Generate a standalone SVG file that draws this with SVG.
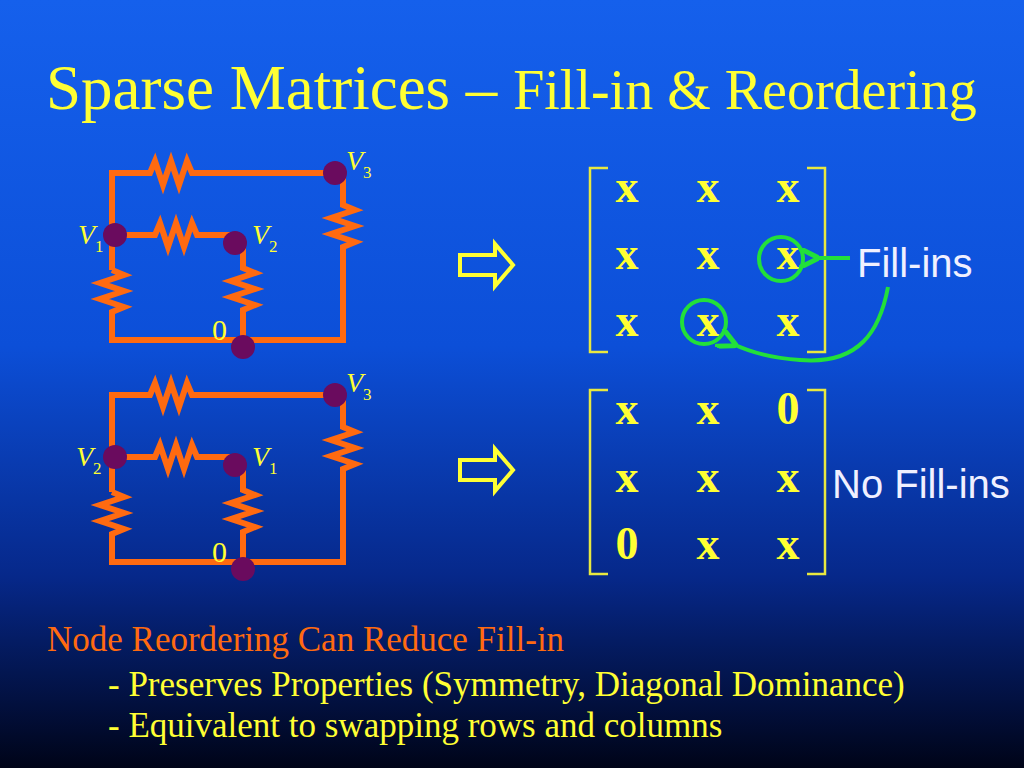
<svg xmlns="http://www.w3.org/2000/svg" width="1024" height="768" viewBox="0 0 1024 768">
<defs>
<linearGradient id="bg" x1="0" y1="0" x2="0" y2="1">
<stop offset="0" stop-color="#1560ec"/><stop offset="0.45" stop-color="#0c4fd8"/><stop offset="0.75" stop-color="#06288a"/><stop offset="1" stop-color="#000418"/>
</linearGradient>
<marker id="ga" viewBox="0 0 10 10" refX="2" refY="5" markerWidth="5" markerHeight="5" orient="auto"><path d="M10,0 L0,5 L10,10" fill="none" stroke="#22e03a" stroke-width="2.5"/></marker>
<g id="circ">
<g fill="none" stroke="#ff6a10" stroke-width="6" stroke-linejoin="miter">
<path d="M112,270 V173 H150 l5,-12 l8,24 l8,-24 l8,24 l8,-24 l5,12 H335"/>
<path d="M343,173 V205 l12,5 l-24,8 l24,8 l-24,8 l24,8 l-12,5 V340 H112 V320"/>
<path d="M112,235 H155 l5,-12 l8,24 l8,-24 l8,24 l8,-24 l5,12 H235"/>
<path d="M243,243 V268 l12,5 l-24,8 l24,8 l-24,8 l24,8 l-12,5 V345"/>
<path d="M112,270 l12,5 l-24,8 l24,8 l-24,8 l24,8 l-12,5 V320"/>
</g>
<g fill="#6a0b5e"><circle cx="335" cy="173" r="12"/><circle cx="115" cy="235" r="12"/><circle cx="235" cy="243" r="12"/><circle cx="243" cy="347" r="12"/></g>
<text x="212" y="340" class="t" font-size="30">0</text>
</g>
<path id="harrow" d="M460,255 H495 V244 L513,265 L495,286 V275 H460 Z" fill="none" stroke="#ffff33" stroke-width="4"/>
<path id="br" d="M608,0 H590 V184 H608 M807,0 H825 V184 H807" fill="none" stroke="#e8e840" stroke-width="2.5"/>
</defs>
<style>
.t{font-family:"Liberation Serif",serif;fill:#ffff33}
.s{font-family:"Liberation Sans",Arial,sans-serif;fill:#f0f0ff;font-size:40px}
.m{font-family:"Liberation Serif",serif;fill:#ffff33;font-size:46px;font-weight:bold;text-anchor:middle}
.v{font-family:"Liberation Serif",serif;fill:#ffff33;font-size:28px;font-style:italic}
.v tspan{font-style:normal;font-size:17px}
</style>
<rect width="1024" height="768" fill="url(#bg)"/>
<text x="46" y="109" class="t" font-size="63">Sparse Matrices – <tspan font-size="56">Fill-in &amp; Reordering</tspan></text>
<g id="circuit1"><use href="#circ"/>
<text x="346" y="170" class="v">V<tspan dy="8">3</tspan></text>
<text x="78" y="244" class="v">V<tspan dy="8">1</tspan></text>
<text x="252" y="244" class="v">V<tspan dy="8">2</tspan></text></g>
<g id="circuit2"><use href="#circ" y="222"/>
<text x="346" y="392" class="v">V<tspan dy="8">3</tspan></text>
<text x="76" y="466" class="v">V<tspan dy="8">2</tspan></text>
<text x="252" y="466" class="v">V<tspan dy="8">1</tspan></text></g>
<g id="arrows"><use href="#harrow"/><use href="#harrow" y="205"/></g>
<g id="matrix1"><use href="#br" y="168"/>
<text class="m"><tspan x="627" y="202">x</tspan><tspan x="708" y="202">x</tspan><tspan x="788" y="202">x</tspan><tspan x="627" y="269">x</tspan><tspan x="708" y="269">x</tspan><tspan x="788" y="269">x</tspan><tspan x="627" y="336">x</tspan><tspan x="708" y="336">x</tspan><tspan x="788" y="336">x</tspan></text></g>
<g id="matrix2"><use href="#br" y="390"/>
<text class="m"><tspan x="627" y="424">x</tspan><tspan x="708" y="424">x</tspan><tspan x="788" y="424">0</tspan><tspan x="627" y="492">x</tspan><tspan x="708" y="492">x</tspan><tspan x="788" y="492">x</tspan><tspan x="627" y="559">0</tspan><tspan x="708" y="559">x</tspan><tspan x="788" y="559">x</tspan></text></g>
<g id="connectors" fill="none" stroke="#22e03a" stroke-width="4">
<circle cx="781" cy="259" r="22"/><circle cx="704" cy="322" r="22"/>
<path d="M850,258 H815" marker-end="url(#ga)"/>
<path d="M888,287 C880,330 860,365 800,360 C770,358 750,352 733,344" marker-end="url(#ga)"/>
</g>
<text x="857" y="277" class="s">Fill-ins</text>
<text x="832" y="498" class="s">No Fill-ins</text>
<text x="47" y="651" font-family="Liberation Serif,serif" font-size="35" fill="#ff6a10">Node Reordering Can Reduce Fill-in</text>
<text x="108" y="696" class="t" font-size="35">- Preserves Properties (Symmetry, Diagonal Dominance)</text>
<text x="108" y="737" class="t" font-size="35">- Equivalent to swapping rows and columns</text>
</svg>
